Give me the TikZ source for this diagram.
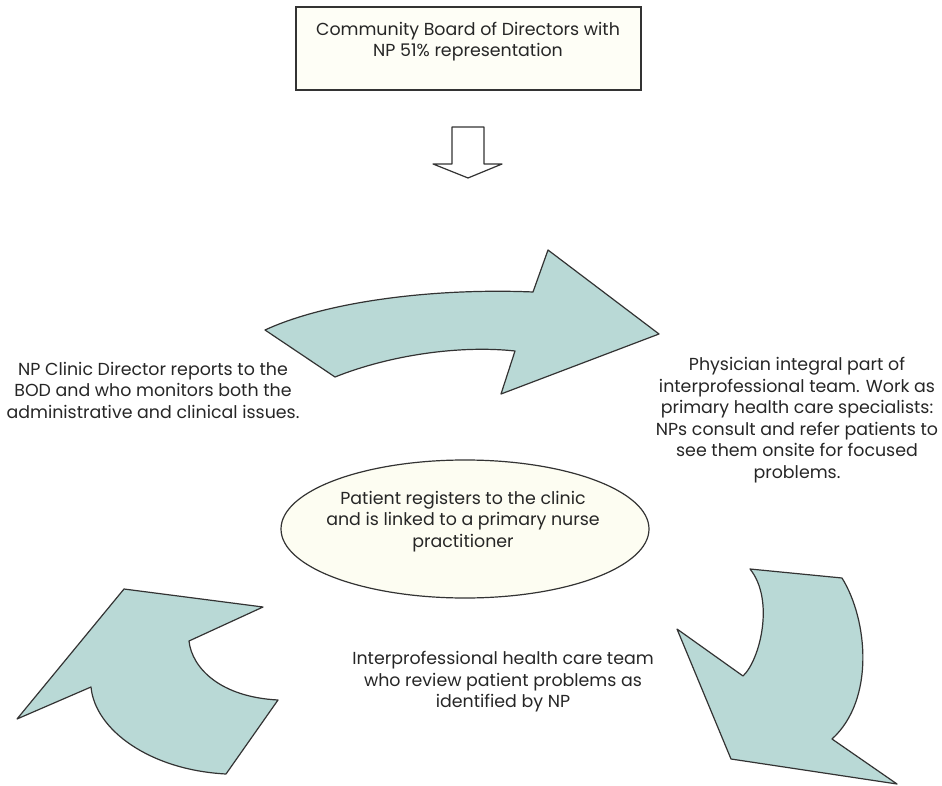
\documentclass[tikz,border=0pt]{standalone}
\usepackage{fontspec}
\setmainfont{Poppins}
\usepackage{tikz}
\usetikzlibrary{shapes.geometric}
\definecolor{tealfill}{HTML}{B9D9D6}
\definecolor{ivoryfill}{HTML}{FEFEF6}
\definecolor{creamfill}{HTML}{FDFDF2}
\definecolor{edge}{HTML}{333333}

\begin{document}
\begin{tikzpicture}[x=1pt, y=-1pt,
        txt/.style = {align=center, font=\fontsize{17.4}{21.5}\selectfont, text=black!85},
        board/.style = {draw=edge, line width=1.2pt, fill=ivoryfill, minimum width=345, minimum height=83},
        blob/.style = {draw=edge, line width=1.2pt, fill=tealfill, line join=round},
        oval/.style = {draw=edge, line width=1.2pt, fill=creamfill, ellipse, minimum width=368, minimum height=138}]
        \useasboundingbox (0,0) rectangle (942,786);
        % top box and down arrow
        \node[board] (bod) at (468.5,48.5) {};
        \node[txt] (bodtext) at (468,41.5) {Community Board of Directors with\\NP 51\% representation};
        \draw[draw=edge, line width=1.2pt, fill=white, line join=round] (452,127) -- (484,127) -- (484,164) -- (502,164)
            -- (468,178) -- (433,164) -- (452,164) -- cycle;
        % curved arrows
        \draw[blob] (265,330) -- (335,377) .. controls (390,355) and (460,345) .. (515,351)
            -- (501,394) -- (659,334) -- (548,250) -- (533,292)
            .. controls (440,288) and (330,300) .. cycle;
        \draw[blob] (750,569) -- (842,578) .. controls (868,620) and (875,700) .. (832,739)
            -- (897,784) -- (731,759) -- (677,629) -- (743,676)
            .. controls (760,660) and (775,600) .. cycle;
        \draw[blob] (124,589) -- (263,607) -- (189,641) .. controls (192,668) and (220,697) .. (278,700)
            -- (226,774) .. controls (150,770) and (95,730) .. (91,687)
            -- (17,719) -- cycle;
        % centre and side texts
        \node[oval] (patient) at (465,529) {};
        \node[txt] (patienttext) at (463,521.5) {Patient registers to the clinic\\and is linked to a primary nurse\\practitioner};
        \node[txt] (director) at (153,390) {NP Clinic Director reports to the\\BOD and who monitors both the\\administrative and clinical issues.};
        \node[txt] (physician) at (797,420) {Physician integral part of\\interprofessional team. Work as\\primary health care specialists:\\NPs consult and refer patients to\\see them onsite for focused\\problems.};
        \node[txt] (team) at (503,682) {Interprofessional health care team\\who review patient problems as\\identified by NP};
    \end{tikzpicture}
\end{document}
